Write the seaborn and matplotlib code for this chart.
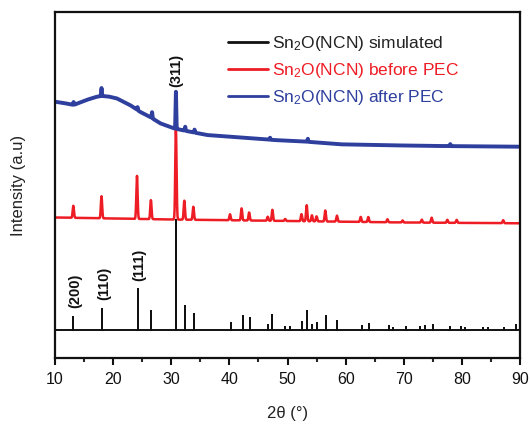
import numpy as np
import pandas as pd
import matplotlib
matplotlib.use("Agg")
import matplotlib.pyplot as plt
import seaborn as sns

# ---------------- data ----------------
# simulated pattern: stick positions (2theta) and heights (arb. units)
sim_pos = [13.15, 18.0, 24.2, 26.6, 30.8, 32.4, 33.9, 40.2, 42.3, 43.6, 46.7, 47.4,
           49.6, 50.4, 52.5, 53.4, 54.3, 55.1, 56.6, 58.6, 62.8, 64.1, 67.4, 68.2,
           70.4, 72.8, 73.6, 75.1, 78.0, 79.8, 80.5, 83.7, 84.5, 87.3, 89.3]
sim_int = [13, 21, 41, 19, 110, 24, 16, 7, 14, 12, 5, 15,
           3, 3, 8, 19, 5, 7, 14, 9, 4, 6, 4, 2,
           3, 3, 4, 5, 3, 3, 2, 2, 2, 2, 5]

# before PEC: peaks and baseline
bef_pos = [13.15, 18.0, 24.1, 26.5, 30.8, 32.25, 33.8, 40.1, 42.1, 43.4, 46.6, 47.4,
           49.6, 52.4, 53.3, 54.2, 55.0, 56.5, 58.5, 62.6, 63.9, 67.2, 69.8, 73.1,
           74.8, 77.5, 79.1, 87.1]
bef_int = [12, 22, 43, 19, 90, 19, 13, 6, 12, 8, 4, 11,
           2, 7, 16, 6, 5, 11, 6, 5, 5, 3, 2, 3,
           5, 3, 3, 3]
bef_base_x = [10, 20, 30, 50, 70, 90]
bef_base_y = [140.5, 139.5, 138.5, 137.0, 135.5, 134.7]

# after PEC: broad background and small peaks
aft_base_x = [10, 11.5, 13.2, 15.4, 17.0, 18.0, 19.2, 20.6, 22.9, 24.6, 26.3, 28.1,
              30.4, 33.2, 36.1, 39.0, 41.8, 47.6, 53.3, 59.0, 64.8, 70.0, 76.2, 83.0, 90]
aft_base_y = [256.3, 255.0, 253.0, 258.0, 261.0, 262.0, 261.5, 259.7, 253.0, 246.3,
              241.3, 234.7, 229.7, 226.3, 223.0, 221.8, 220.7, 218.0, 216.3, 213.7,
              213.0, 212.5, 212.0, 211.6, 211.3]
aft_pos = [13.2, 18.0, 24.2, 26.7, 30.8, 32.4, 34.0, 47.0, 53.5, 78.0]
aft_int = [3, 8, 3, 6, 37, 4, 3, 2, 3, 2]

sim_base = 28.0
labels = ["Sn$_{2}$O(NCN) simulated", "Sn$_{2}$O(NCN) before PEC", "Sn$_{2}$O(NCN) after PEC"]
colors = ["#111111", "#ee1c24", "#2e3f9e"]
hkl_text = ["(200)", "(110)", "(111)", "(311)"]
hkl_x = [13.45, 18.4, 24.45, 30.8]
hkl_y = [67.5, 74.5, 93.5, 288.0]

# ---------------- build profiles ----------------
# stick pattern path
sx, sy = [10.0], [sim_base]
for p, h in zip(sim_pos, sim_int):
    sx += [p, p, p]
    sy += [sim_base, sim_base + h, sim_base]
sx.append(90.0)
sy.append(sim_base)

grid = np.arange(10, 90.001, 0.01)

def profile(base_x, base_y, pos, inten, sigma):
    y = np.interp(grid, base_x, base_y)
    for p, h in zip(pos, inten):
        y = y + h * np.exp(-0.5 * ((grid - p) / sigma) ** 2)
    return y

bef_y = profile(bef_base_x, bef_base_y, bef_pos, bef_int, 0.11)
aft_y = profile(aft_base_x, aft_base_y, aft_pos, aft_int, 0.06)

df_sim = pd.DataFrame({"x": sx, "y": sy, "s": labels[0]})
df_bef = pd.DataFrame({"x": grid, "y": bef_y, "s": labels[1]})
df_aft = pd.DataFrame({"x": grid, "y": aft_y, "s": labels[2]})

# ---------------- style ----------------
sns.set_style("ticks")
plt.rcParams["font.family"] = ["Liberation Sans", "DejaVu Sans"]
plt.rcParams["mathtext.fontset"] = "custom"
plt.rcParams["mathtext.rm"] = "Liberation Sans"
plt.rcParams["mathtext.it"] = "Liberation Sans:italic"
plt.rcParams["mathtext.bf"] = "Liberation Sans:bold"

fig = plt.figure(figsize=(5.30, 4.24), dpi=100)
ax = fig.add_axes([55 / 530, 1 - 358 / 424, (520 - 55) / 530, (358 - 12) / 424])

sns.lineplot(data=df_sim, x="x", y="y", sort=False, estimator=None, color=colors[0],
             lw=1.4, ax=ax, label=labels[0])
sns.lineplot(data=df_bef, x="x", y="y", sort=False, estimator=None, color=colors[1],
             lw=1.8, ax=ax, label=labels[1])
sns.lineplot(data=df_aft, x="x", y="y", sort=False, estimator=None, color=colors[2],
             lw=2.8, ax=ax, label=labels[2])

for t, xx, yy in zip(hkl_text, hkl_x, hkl_y):
    ax.text(xx, yy, t, rotation=90, ha="center", va="center", fontsize=10.5,
            fontweight="bold", color="#111111")

ax.set_xlim(10, 90)
ax.set_ylim(0, 346)
ax.set_xticks(range(10, 91, 10))
ax.set_xticks(range(15, 90, 10), minor=True)
ax.set_yticks([])
ax.tick_params(axis="x", which="major", direction="out", length=5, width=1.5,
               labelsize=11.5, pad=5, colors="#111111")
ax.tick_params(axis="x", which="minor", direction="out", length=3, width=1.5)
ax.set_xlabel("2θ (°)", fontsize=12, labelpad=14, color="#222222")
ax.set_ylabel("Intensity (a.u)", fontsize=12, labelpad=21, color="#222222")
for s in ax.spines.values():
    s.set_linewidth(1.6)
    s.set_color("#111111")
    s.set_visible(True)

leg = ax.legend(loc="upper left", bbox_to_anchor=(228 / 530, 1 - 34 / 424),
                bbox_transform=fig.transFigure, frameon=False, fontsize=12.5,
                handlelength=2.3, handletextpad=0.25, labelspacing=0.45,
                borderpad=0, borderaxespad=0)
for txt, c in zip(leg.get_texts(), colors):
    txt.set_color(c if c != "#111111" else "#222222")
for h in leg.get_lines():
    h.set_linewidth(2.0)

fig.savefig("out.png", dpi=100)
